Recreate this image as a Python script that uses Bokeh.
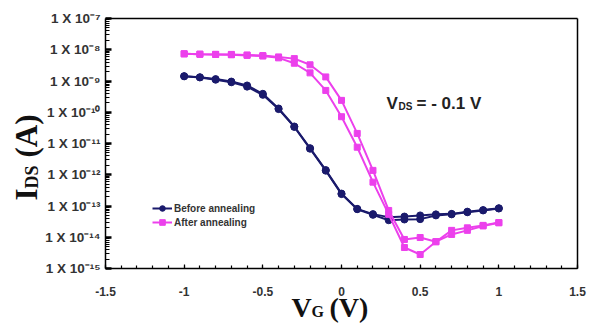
import math
from bokeh.plotting import figure
from bokeh.models import (Range1d, FixedTicker, SingleIntervalTicker, Label, Legend,
                          LegendItem, CustomJSTickFormatter, LinearAxis, LogAxis)
from bokeh.embed import file_html
from bokeh.resources import INLINE

# ---------------- data ----------------
vg = [-1.0, -0.9, -0.8, -0.7, -0.6, -0.5, -0.4, -0.3, -0.2, -0.1, 0.0,
      0.1, 0.2, 0.3, 0.4, 0.5, 0.6, 0.7, 0.8, 0.9, 1.0]

before_fwd = [1.43e-9, 1.32e-9, 1.15e-9, 9.6e-10, 7.2e-10, 3.9e-10, 1.32e-10, 3.5e-11,
              7.1e-12, 1.41e-12, 2.5e-13, 8.1e-14, 5.5e-14, 4.4e-14, 4.6e-14, 5.0e-14,
              5.4e-14, 5.6e-14, 6.6e-14, 7.4e-14, 8.5e-14]
before_rev = [1.41e-9, 1.30e-9, 1.10e-9, 9.1e-10, 6.6e-10, 3.6e-10, 1.26e-10, 3.4e-11,
              6.8e-12, 1.35e-12, 2.4e-13, 7.9e-14, 5.2e-14, 3.5e-14, 3.7e-14, 3.8e-14,
              5.0e-14, 5.4e-14, 6.3e-14, 7.2e-14, 8.3e-14]

after_fwd = [7.4e-9, 7.2e-9, 7.1e-9, 7.1e-9, 6.8e-9, 6.5e-9, 5.9e-9, 5.2e-9,
             3.3e-9, 1.35e-9, 2.4e-10, 2.1e-11, 1.38e-12, 7.2e-14, 8.5e-15, 9.8e-15,
             7.2e-15, 1.66e-14, 2.0e-14, 2.4e-14, 2.95e-14]
after_rev = [7.4e-9, 7.2e-9, 7.1e-9, 6.9e-9, 6.6e-9, 6.3e-9, 5.5e-9, 3.7e-9,
             1.82e-9, 5.0e-10, 7.2e-11, 7.6e-12, 5.8e-13, 5.4e-14, 4.7e-15, 2.8e-15,
             7.2e-15, 1.23e-14, 1.66e-14, 2.3e-14, 2.9e-14]

series_labels = ["Before annealing", "After annealing"]

x_ticks = [-1.5, -1.0, -0.5, 0.0, 0.5, 1.0, 1.5]
x_tick_labels = ["-1.5", "-1", "-0.5", "0", "0.5", "1", "1.5"]

y_ticks = [1e-15, 1e-14, 1e-13, 1e-12, 1e-11, 1e-10, 1e-9, 1e-8, 1e-7]
y_tick_labels = ["1 X 10\u207b\u00b9\u2075", "1 X 10\u207b\u00b9\u2074", "1 X 10\u207b\u00b9\u00b3",
                 "1 X 10\u207b\u00b9\u00b2", "1 X 10\u207b\u00b9\u00b9", "1 X 10\u207b\u00b9\u2070",
                 "1 X 10\u207b\u2079", "1 X 10\u207b\u2078", "1 X 10\u207b\u2077"]

x_lo, x_hi = -1.5, 1.5
y_lo, y_hi = 1e-15, 1e-7

NAVY = "#1a1a6c"
PINK = "#ec40ec"
SANS = "Liberation Sans"
SERIF = "Liberation Serif"

# ---------------- layout: plot box inside a full-canvas frame ----------------
W, H = 602, 325
box_left, box_right, box_top, box_bottom = 105, 577, 18, 268   # pixels
px_per_x = (box_right - box_left) / (x_hi - x_lo)
px_per_dec = (box_bottom - box_top) / (math.log10(y_hi) - math.log10(y_lo))
xr = Range1d(x_lo - box_left / px_per_x, x_hi + (W - box_right) / px_per_x)
yr = Range1d(10 ** (math.log10(y_lo) - (H - box_bottom) / px_per_dec),
             10 ** (math.log10(y_hi) + box_top / px_per_dec))

p = figure(width=W, height=H, output_backend="svg", toolbar_location=None,
           y_axis_type="log", x_range=xr, y_range=yr,
           min_border_left=0, min_border_right=0, min_border_top=0, min_border_bottom=0)
p.background_fill_color = "white"
p.border_fill_color = "white"
p.outline_line_color = None
p.xgrid.visible = False
p.ygrid.visible = False

# x axis
xa = p.xaxis[0]
xa.fixed_location = y_lo
xa.bounds = (x_lo, x_hi)
xa.ticker = SingleIntervalTicker(interval=0.5, num_minor_ticks=5)
xa.formatter = CustomJSTickFormatter(args=dict(t=x_ticks, l=x_tick_labels), code="""
    const i = t.findIndex(v => Math.abs(v - tick) < 1e-9);
    return i >= 0 ? l[i] : '';
""")
xa.axis_line_width = 1.5
xa.axis_line_color = "black"
xa.major_tick_in = 4
xa.major_tick_out = 0
xa.minor_tick_in = 3
xa.minor_tick_out = 0
xa.major_tick_line_width = 1.2
xa.minor_tick_line_width = 1.2
xa.major_label_standoff = 18
xa.major_label_text_font = SANS
xa.major_label_text_font_style = "bold"
xa.major_label_text_font_size = "12px"
xa.major_label_text_color = "#333333"

# y axis
minor = [m * 10.0 ** e for e in range(-15, -7) for m in range(2, 10)]
ya = p.yaxis[0]
ya.fixed_location = x_lo
ya.bounds = (y_lo, y_hi)
ya.ticker = FixedTicker(ticks=y_ticks, minor_ticks=minor)
ya.formatter = CustomJSTickFormatter(args=dict(t=y_ticks, l=y_tick_labels), code="""
    const i = t.findIndex(v => Math.abs(Math.log10(v) - Math.log10(tick)) < 1e-6);
    return i >= 0 ? l[i] : '';
""")
ya.axis_line_width = 1.5
ya.axis_line_color = "black"
ya.major_tick_in = 6
ya.major_tick_out = 0
ya.minor_tick_in = 4
ya.minor_tick_out = 0
ya.major_tick_line_width = 2.5
ya.minor_tick_line_width = 1.2
ya.major_label_standoff = 5
ya.major_label_text_font = SANS
ya.major_label_text_font_style = "bold"
ya.major_label_text_font_size = "13.5px"
ya.major_label_text_color = "#333333"

# top and right edges of the box
top_ax = LinearAxis(fixed_location=y_hi, bounds=(x_lo, x_hi), ticker=FixedTicker(ticks=[]),
                    major_label_text_font_size="0px", axis_line_width=1.5, axis_line_color="black",
                    major_tick_line_color=None, minor_tick_line_color=None)
right_ax = LogAxis(fixed_location=x_hi, bounds=(y_lo, y_hi), ticker=FixedTicker(ticks=[]),
                   major_label_text_font_size="0px", axis_line_width=1.5, axis_line_color="black",
                   major_tick_line_color=None, minor_tick_line_color=None)
p.add_layout(top_ax, "above")
p.add_layout(right_ax, "right")

# curves
r_b1 = p.line(vg, before_fwd, line_color=NAVY, line_width=2)
r_b1m = p.scatter(vg, before_fwd, marker="circle", size=7, fill_color=NAVY, line_color=NAVY)
p.line(vg, before_rev, line_color=NAVY, line_width=2)
p.scatter(vg, before_rev, marker="circle", size=7, fill_color=NAVY, line_color=NAVY)

r_a1 = p.line(vg, after_fwd, line_color=PINK, line_width=2)
r_a1m = p.scatter(vg, after_fwd, marker="square", size=6, fill_color=PINK, line_color=PINK)
p.line(vg, after_rev, line_color=PINK, line_width=2)
p.scatter(vg, after_rev, marker="square", size=6, fill_color=PINK, line_color=PINK)

legend = Legend(items=[LegendItem(label=series_labels[0], renderers=[r_b1, r_b1m]),
                       LegendItem(label=series_labels[1], renderers=[r_a1, r_a1m])],
                location=(150, H - 231))
legend.background_fill_alpha = 0
legend.border_line_alpha = 0
legend.margin = 0
legend.padding = 2
legend.spacing = 0
legend.glyph_width = 20
legend.glyph_height = 14
legend.label_height = 14
legend.label_standoff = 2
legend.label_text_font = SANS
legend.label_text_font_style = "bold"
legend.label_text_font_size = "10px"
legend.label_text_color = "#333333"
p.add_layout(legend)

# axis titles (built from labels so subscripts stay real text)
def lab(text, x, y, dx, dy, size, font, angle=0.0, style="bold", color="#111111"):
    p.add_layout(Label(x=x, y=y, x_offset=dx, y_offset=dy, text=text, angle=angle,
                       text_font=font, text_font_style=style, text_font_size=size,
                       text_align="left", text_baseline="alphabetic", text_color=color))

# x title: V_G (V)
lab("V", 0.0, y_lo, -50, -39, "28px", SERIF)
lab("G", 0.0, y_lo, -30, -43, "16px", SERIF)
lab("(V)", 0.0, y_lo, -12, -39, "28px", SERIF)

# y title: I_DS (A)
half = math.pi / 2
lab("I", x_lo, y_lo, -79, 68, "31px", SERIF, angle=half)
lab("DS", x_lo, y_lo, -74, 80, "18px", SERIF, angle=half)
lab("(A)", x_lo, y_lo, -79, 111, "31px", SERIF, angle=half)

# annotation: V_DS = - 0.1 V
lab("V", 0.0, 1e-10, 45, 9, "17px", SANS, color="#222222")
lab("DS", 0.0, 1e-10, 57, 6, "10px", SANS, color="#222222")
lab("= - 0.1 V", 0.0, 1e-10, 75, 9, "17px", SANS, color="#222222")

open("out.html", "w").write(file_html(p, INLINE))
